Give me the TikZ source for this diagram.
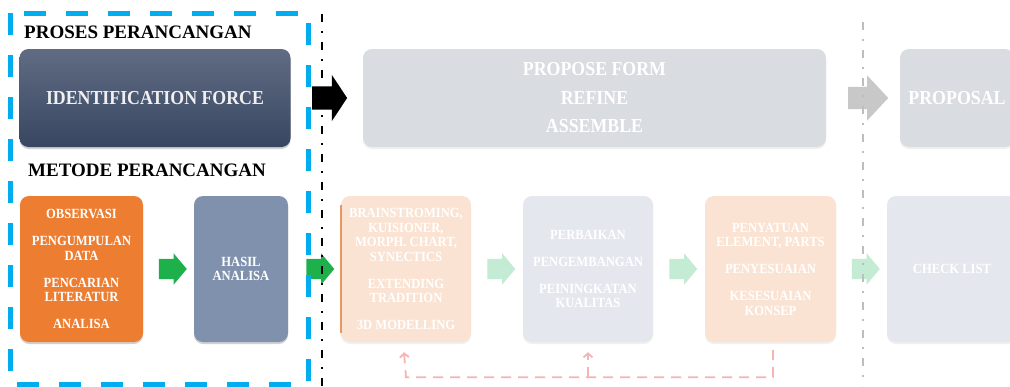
\documentclass[tikz,border=0pt]{standalone}
\usepackage{fontspec}
\setmainfont{Liberation Serif}
\newfontfamily\boxfont{Liberation Serif}[FakeStretch=0.9]
\usetikzlibrary{shapes.arrows,arrows.meta,shadows,calc}

\definecolor{idtop}{RGB}{96,108,131}
\definecolor{idbot}{RGB}{56,70,97}
\definecolor{obsorange}{RGB}{237,125,49}
\definecolor{hasilblue}{RGB}{128,145,174}
\definecolor{topgray}{RGB}{217,220,225}
\definecolor{peach}{RGB}{251,227,211}
\definecolor{peachedge}{RGB}{232,150,100}
\definecolor{palegray}{RGB}{228,231,238}
\definecolor{arrowgreen}{RGB}{29,176,75}
\definecolor{palegreen}{RGB}{196,235,212}
\definecolor{arrowgray}{RGB}{200,200,200}
\definecolor{feedpink}{RGB}{245,180,180}
\definecolor{frameblue}{RGB}{0,174,239}
\definecolor{divgray}{RGB}{190,190,190}

\tikzset{
  heading/.style={anchor=base west, inner sep=0pt, text=black,
    font=\bfseries\fontsize{19}{19}\selectfont},
  panel/.style={rounded corners=9pt, inner sep=0pt, align=center, text=white,
    font=\boxfont\bfseries\fontsize{14}{14.5}\selectfont},
  bigpanel/.style={panel, font=\boxfont\bfseries\fontsize{19.8}{28.5}\selectfont},
  lowrow/.style={panel, minimum height=146pt},
  toprow/.style={bigpanel, minimum height=98pt},
  softshadow/.style={drop shadow={shadow xshift=0pt, shadow yshift=-2pt,
    opacity=0.18, fill=black}},
  faintshadow/.style={drop shadow={shadow xshift=0pt, shadow yshift=-2pt,
    opacity=0.06, fill=black}},
  % block arrow: shaft thickness comes from the text box height
  blockarrow/.style n args={4}{single arrow, inner sep=0pt, draw=none,
    text width=0pt, text height=#2/2, text depth=#2/2,
    minimum height=#1, single arrow head extend=#3,
    single arrow tip angle=#4},
  smallarrow/.style={blockarrow={28pt}{20pt}{5.5pt}{100}},
  feedback/.style={feedpink, line width=1.8pt, dash pattern=on 10pt off 7pt},
  divider/.style={line width=2.5pt, dash pattern=on 8pt off 9pt on 2pt off 9pt},
}

\begin{document}
\begin{tikzpicture}[x=1pt,y=-1pt]
\useasboundingbox (0,0) rectangle (1010,386);
\fill[white] (0,0) rectangle (1010,386);

% headings of the two rows
\node[heading] (hproc) at (24,38.5) {PROSES PERANCANGAN};
\node[heading] (hmet) at (28,176) {METODE PERANCANGAN};

% upper row: design process
\node[toprow, softshadow, minimum width=271pt, top color=idtop, bottom color=idbot,
  text={rgb,255:red,240;green,240;blue,242}] (idf) at (155,98) {IDENTIFICATION FORCE};
\node[toprow, faintshadow, minimum width=463pt, fill=topgray] (propose) at (594.5,98)
  {PROPOSE FORM\\REFINE\\ASSEMBLE};
\node[toprow, faintshadow, minimum width=114pt, fill=topgray] (proposal) at (957,98)
  {PROPOSAL};

% lower row: design methods
\node[lowrow, softshadow, minimum width=123pt, fill=obsorange] (obs) at (81.5,269)
  {OBSERVASI\\[12.5pt]PENGUMPULAN\\DATA\\[12.5pt]PENCARIAN\\LITERATUR\\[12.5pt]ANALISA};
\node[lowrow, softshadow, minimum width=94pt, fill=hasilblue] (hasil) at (241,269)
  {HASIL\\ANALISA};
\node[lowrow, faintshadow, minimum width=130pt, fill=peach] (brain) at (406,269)
  {BRAINSTROMING,\\KUISIONER,\\MORPH. CHART,\\SYNECTICS\\[12.5pt]EXTENDING\\TRADITION\\[12.5pt]3D MODELLING};
\node[lowrow, faintshadow, minimum width=130pt, fill=palegray] (perb) at (588,269)
  {PERBAIKAN\\[12.5pt]PENGEMBANGAN\\[12.5pt]PEININGKATAN\\KUALITAS};
\node[lowrow, faintshadow, minimum width=131pt, fill=peach] (peny) at (770.5,269)
  {PENYATUAN\\ELEMENT, PARTS\\[12.5pt]PENYESUAIAN\\[12.5pt]KESESUAIAN\\KONSEP};
\node[lowrow, faintshadow, minimum width=130pt, fill=palegray] (check) at (952,269)
  {CHECK LIST};
\draw[peachedge, line width=1.6pt] ([yshift=-9pt]brain.north west) -- ([yshift=9pt]brain.south west);

% block arrows between the boxes
\node[smallarrow, fill=arrowgreen] (a1) at ($(obs.east)!0.5!(hasil.west)$) {};
\node[smallarrow, fill=arrowgreen] (a2) at ($(hasil.east)!0.5!(brain.west)+(1.5,0)$) {};
\node[smallarrow, fill=palegreen] (a3) at ($(brain.east)!0.5!(perb.west)$) {};
\node[smallarrow, fill=palegreen] (a4) at ($(perb.east)!0.5!(peny.west)$) {};
\node[smallarrow, fill=palegreen] (a5) at ($(peny.east)!0.5!(check.west)$) {};
\node[blockarrow={35pt}{23pt}{11.5pt}{113}, fill=black] (a6)
  at ($(idf.east)!0.5!(propose.west)+(-1,0)$) {};
\node[blockarrow={40pt}{22pt}{11.5pt}{94}, fill=arrowgray] (a7)
  at ($(propose.east)!0.5!(proposal.west)$) {};

% feedback loop back to the earlier stages
\coordinate (fbA) at ($(peny.south)+(2.5,8)$);
\coordinate (fbB) at ($(fbA)+(0,27)$);
\draw[feedback, -{Straight Barb[length=4pt,width=9pt]}]
  (fbA) -- (fbB) -- (fbB -| brain.south) -- ($(brain.south)+(-2,10)$);
\draw[feedback, -{Straight Barb[length=4pt,width=9pt]}]
  (fbB -| perb.south) -- ($(perb.south)+(0,10)$);

% stage dividers and the highlight frame
\draw[divider, black] (322,14) -- (322,386);
\draw[divider, divgray, line width=2pt] (863,22) -- (863,386);
\draw[frameblue, line width=5pt, dash pattern=on 22pt off 20pt] (10,13) rectangle (308,384);
\end{tikzpicture}
\end{document}
